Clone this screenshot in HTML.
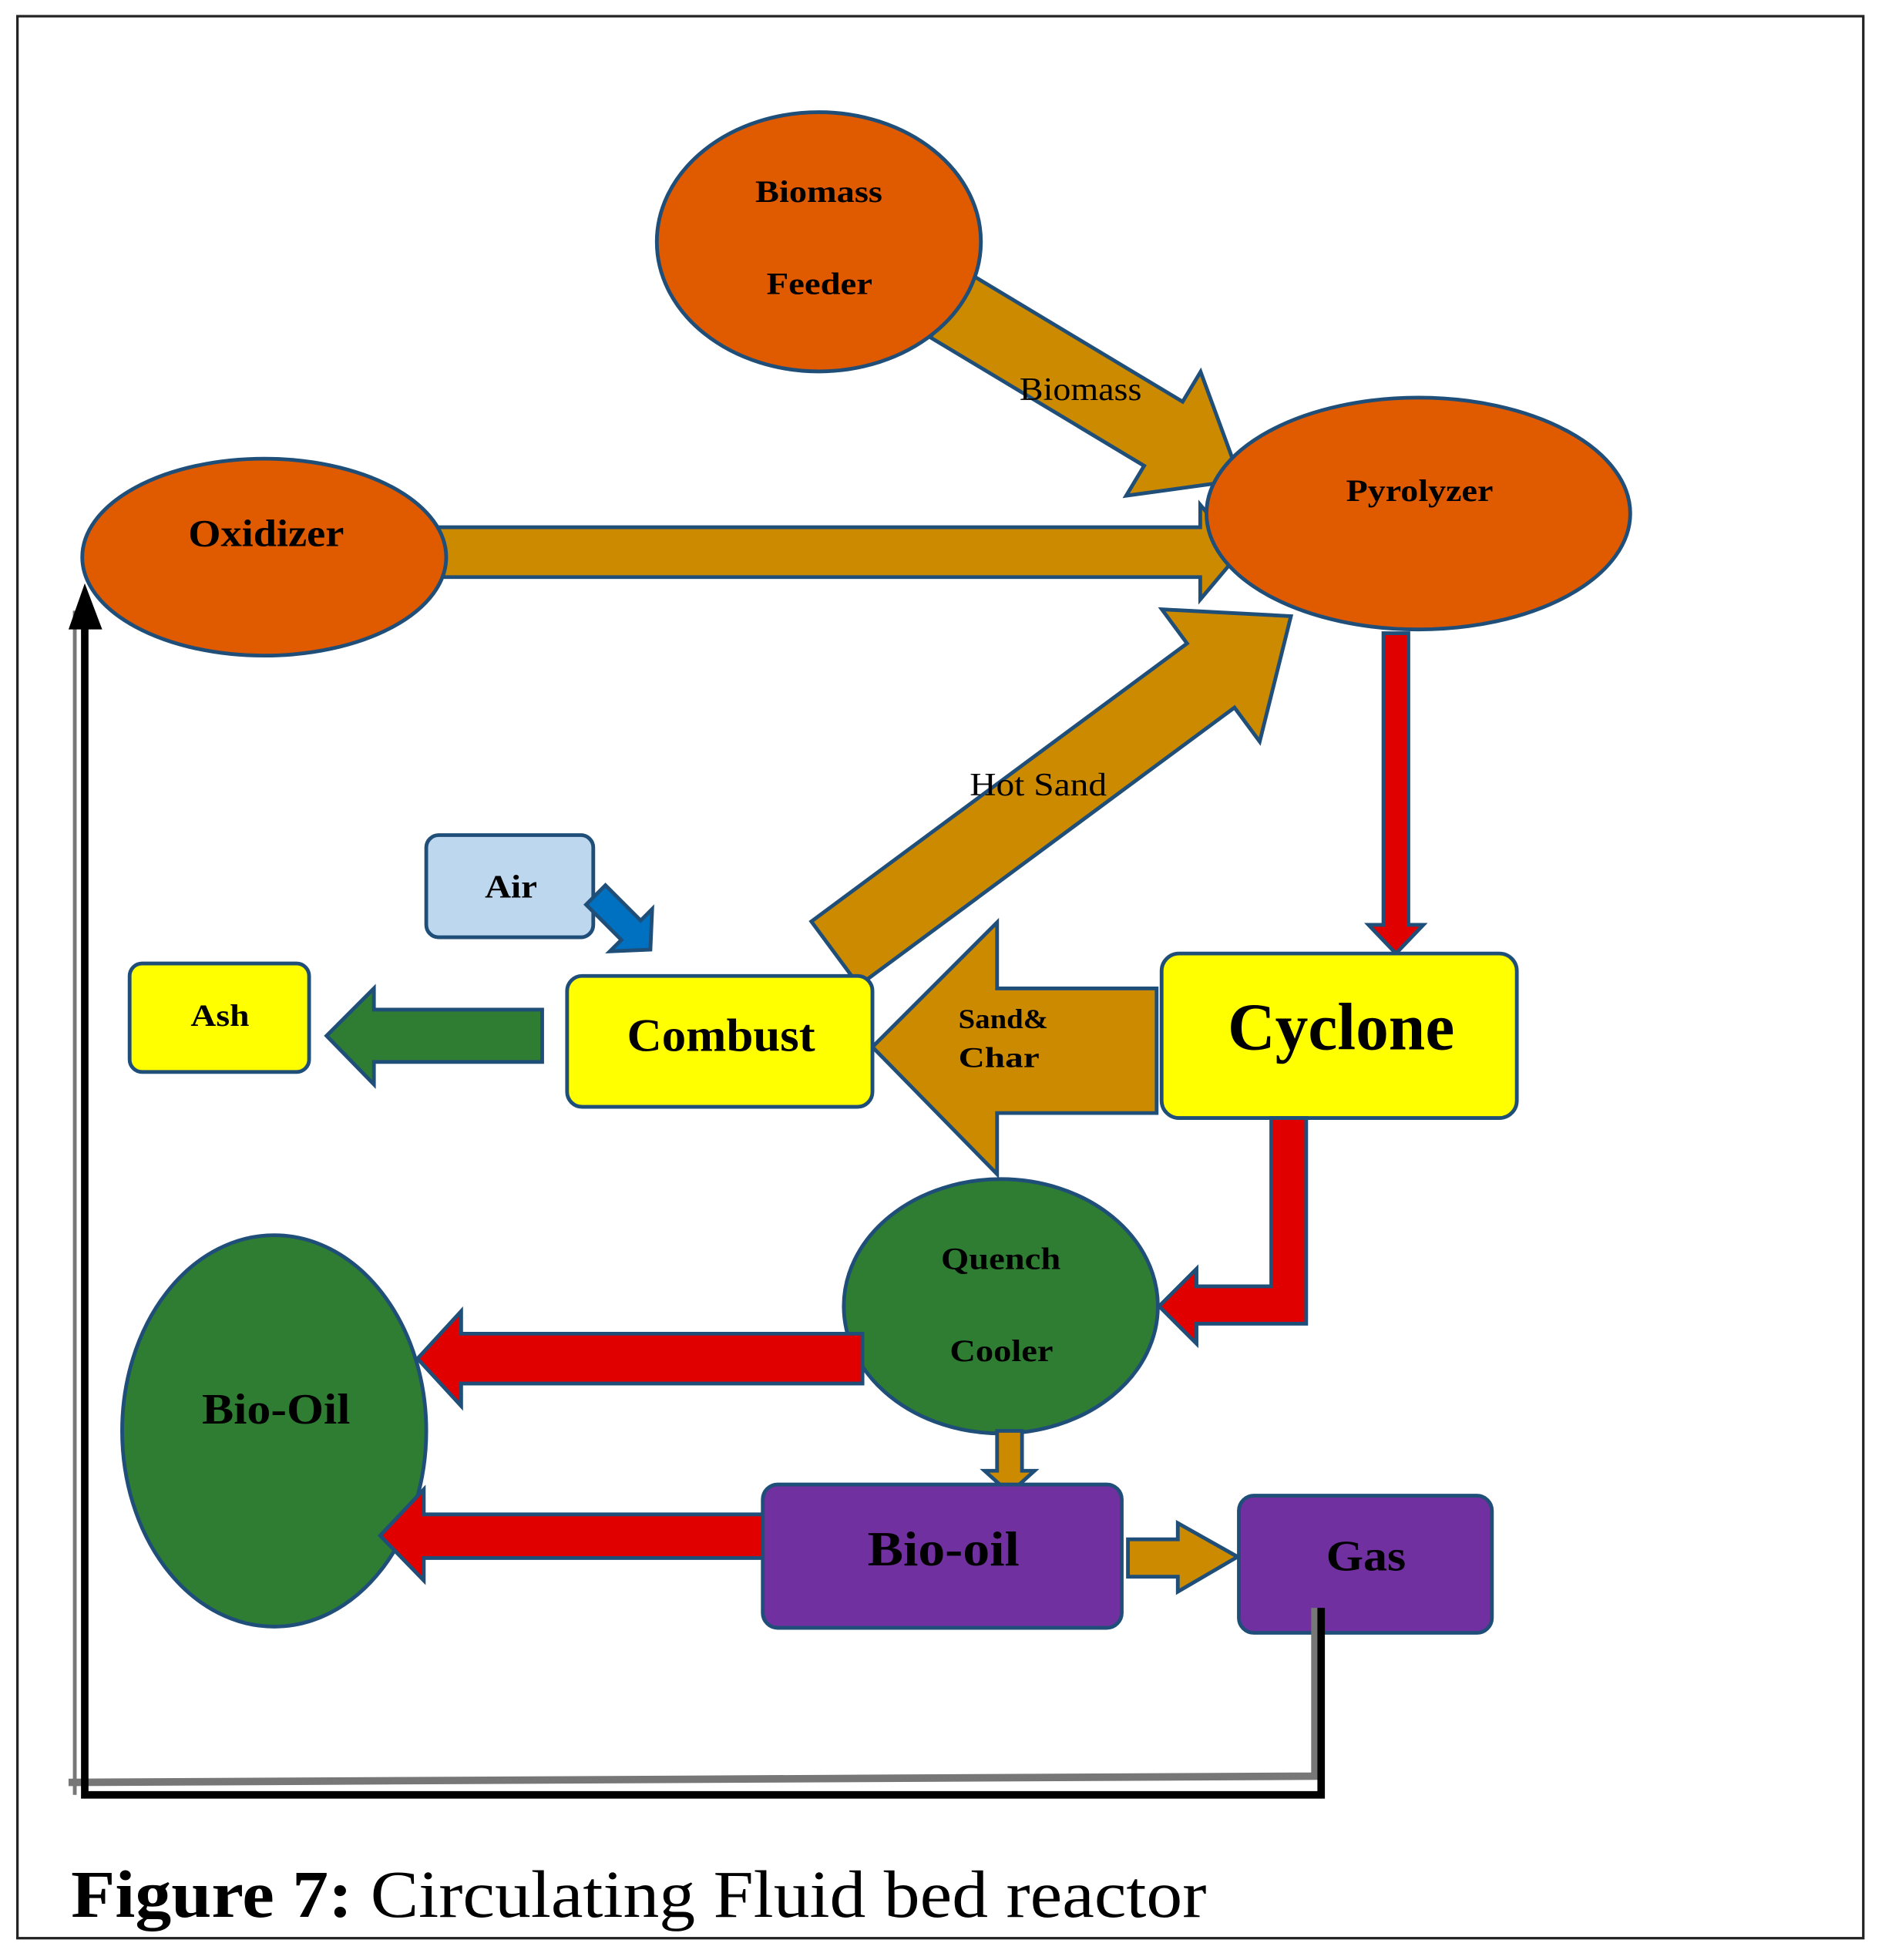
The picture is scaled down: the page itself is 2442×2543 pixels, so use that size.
<!DOCTYPE html>
<html><head><meta charset="utf-8"><style>html,body{margin:0;padding:0;background:#fff}svg{display:block}</style></head>
<body>
<svg width="2442" height="2543" viewBox="0 0 1510 1572.5" preserveAspectRatio="none" xmlns="http://www.w3.org/2000/svg" font-family="Liberation Serif, serif">
<rect x="0" y="0" width="1510" height="1572.5" fill="#fff"/>
<rect x="14" y="13" width="1481" height="1542" fill="none" stroke="#222" stroke-width="2"/>
<g stroke="#1F4E79" stroke-width="3" stroke-linejoin="miter">
<g transform="translate(762,245) rotate(31)">
<polygon points="0,-30 200,-30 200,-58 272,0 200,58 200,30 0,30" fill="#CC8A00"/>
</g>
<polygon points="352,423 963,423 963,405 995,443 963,481 963,463 352,463" fill="#CC8A00"/>
<g transform="translate(670,765) rotate(-36.5)">
<polygon points="0,-32 375,-32 375,-66 455,0 375,66 375,32 0,32" fill="#CC8A00"/>
</g>
<ellipse cx="657" cy="194" rx="130" ry="104" fill="#E05A00"/>
<ellipse cx="1138" cy="412" rx="170" ry="93" fill="#E05A00"/>
<ellipse cx="212" cy="447" rx="146" ry="79" fill="#E05A00"/>
<polygon points="1110,508 1130,508 1130,742 1142,742 1120,765 1098,742 1110,742" fill="#E00000"/>
<rect x="342" y="670" width="134" height="82" rx="10" fill="#BDD7EE"/>
<g transform="translate(478,718) rotate(45)">
<polygon points="0,-11 40,-11 40,-24 62,0 40,24 40,11 0,11" fill="#0070C0"/>
</g>
<rect x="104" y="773" width="144" height="87" rx="10" fill="#FFFF00"/>
<polygon points="435,810 300,810 300,793 262,831 300,870 300,852 435,852" fill="#2E7D32"/>
<polygon points="928,793 800,793 800,740 700,840 800,942 800,893 928,893" fill="#CC8A00"/>
<rect x="455" y="783" width="245" height="105" rx="12" fill="#FFFF00"/>
<rect x="932" y="765" width="285" height="132" rx="14" fill="#FFFF00"/>
<polygon points="1020,897 1048,897 1048,1062 960,1062 960,1078 930,1048 960,1018 960,1032 1020,1032" fill="#E00000"/>
<ellipse cx="803" cy="1048" rx="126" ry="102" fill="#2E7D32"/>
<ellipse cx="220" cy="1148" rx="122" ry="157" fill="#2E7D32"/>
<polygon points="692,1070 370,1070 370,1052 335,1090 370,1128 370,1110 692,1110" fill="#E00000"/>
<polygon points="800,1148 820,1148 820,1180 830,1180 810,1198 790,1180 800,1180" fill="#CC8A00"/>
<rect x="612" y="1191" width="288" height="115" rx="12" fill="#7030A0"/>
<polygon points="612,1215 340,1215 340,1195 305,1232 340,1268 340,1250 612,1250" fill="#E00000"/>
<polygon points="905,1235 945,1235 945,1222 993,1249 945,1277 945,1265 905,1265" fill="#CC8A00"/>
<rect x="994" y="1200" width="203" height="110" rx="12" fill="#7030A0"/>
</g>
<polyline points="55,1430 1055,1425 1055,1290" fill="none" stroke="#777" stroke-width="6"/>
<polyline points="1060,1290 1060,1440 68,1440 68,495" fill="none" stroke="#000" stroke-width="6"/>
<line x1="60" y1="1440" x2="60" y2="490" stroke="#777" stroke-width="3"/>
<polygon points="68,468 55,505 82,505" fill="#000"/>
<g font-weight="bold" fill="#000" lengthAdjust="spacingAndGlyphs">
<text x="606" y="162" font-size="25" textLength="102" lengthAdjust="spacingAndGlyphs">Biomass</text>
<text x="615" y="236" font-size="25" textLength="85" lengthAdjust="spacingAndGlyphs">Feeder</text>
<text x="1080" y="402" font-size="25" textLength="118" lengthAdjust="spacingAndGlyphs">Pyrolyzer</text>
<text x="151" y="438" font-size="31" textLength="125" lengthAdjust="spacingAndGlyphs">Oxidizer</text>
<text x="389" y="720" font-size="26" textLength="42" lengthAdjust="spacingAndGlyphs">Air</text>
<text x="153" y="823" font-size="25" textLength="47" lengthAdjust="spacingAndGlyphs">Ash</text>
<text x="503" y="843" font-size="37" textLength="151" lengthAdjust="spacingAndGlyphs">Combust</text>
<text x="985" y="842" font-size="54" textLength="182" lengthAdjust="spacingAndGlyphs">Cyclone</text>
<text x="755" y="1018" font-size="25" textLength="96" lengthAdjust="spacingAndGlyphs">Quench</text>
<text x="762" y="1092" font-size="25" textLength="83" lengthAdjust="spacingAndGlyphs">Cooler</text>
<text x="162" y="1142" font-size="35" textLength="119" lengthAdjust="spacingAndGlyphs">Bio-Oil</text>
<text x="696" y="1256" font-size="39" textLength="122" lengthAdjust="spacingAndGlyphs">Bio-oil</text>
<text x="1064" y="1260" font-size="35" textLength="64" lengthAdjust="spacingAndGlyphs">Gas</text>
<text x="769" y="825" font-size="22" textLength="72" lengthAdjust="spacingAndGlyphs">Sand&amp;</text>
<text x="769" y="856" font-size="23" textLength="65" lengthAdjust="spacingAndGlyphs">Char</text>
</g>
<text x="818" y="321" font-size="26" fill="#000" textLength="98" lengthAdjust="spacingAndGlyphs">Biomass</text>
<text x="778" y="638" font-size="26" fill="#000" textLength="110" lengthAdjust="spacingAndGlyphs">Hot Sand</text>
<text x="57" y="1538" font-size="54" fill="#000" textLength="911" lengthAdjust="spacingAndGlyphs"><tspan font-weight="bold">Figure 7:</tspan> Circulating Fluid bed reactor</text>
</svg>
</body></html>
